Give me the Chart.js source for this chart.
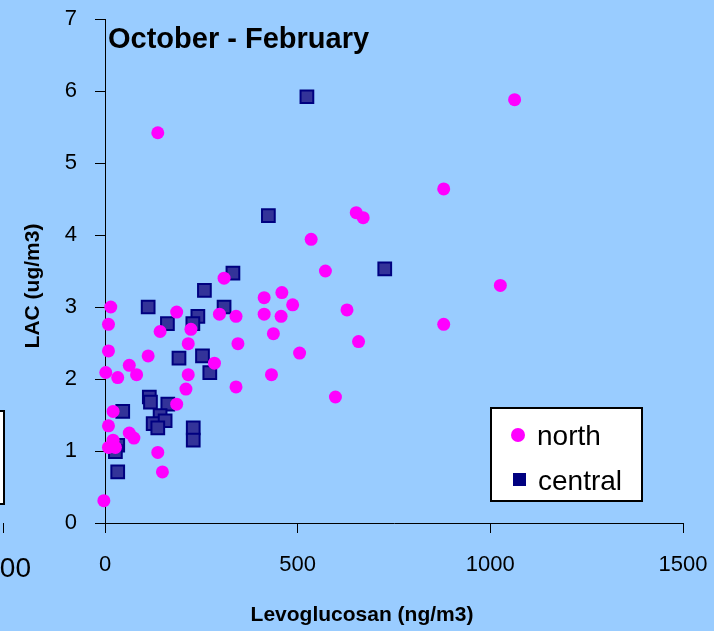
<!DOCTYPE html>
<html>
<head>
<meta charset="utf-8">
<title>October - February</title>
<script src="https://cdn.jsdelivr.net/npm/chart.js@4.4.1/dist/chart.umd.min.js"></script>
<style>
    html, body { margin: 0; padding: 0; background: #99CCFF; }
    #wrap { position: relative; width: 714px; height: 631px; }
</style>
</head>
<body>
<div id="wrap"><canvas id="chart"></canvas></div>
<script>
// ------------------- Data -------------------
const northX = [1063, 879, 652, 670, 535, 572, 459, 487, 457, 628, 1026, 879, 658, 505, 598,
    137, 309, 413, 15, 186, 297, 340, 413, 9, 143, 223, 437, 216, 345, 9, 112, 63, 284,
    2, 33, 82, 216, 432, 210, 340, 186, 21, 9, 63, 75, 21, 9, 27, 137, 149, -3];
const northY = [5.88, 4.64, 4.31, 4.24, 3.94, 3.50, 3.20, 3.03, 2.87, 2.96, 3.30, 2.76, 2.52, 2.36, 1.75,
    5.42, 3.40, 3.13, 3.00, 2.93, 2.90, 2.87, 2.90, 2.76, 2.66, 2.69, 2.63, 2.49, 2.49, 2.39, 2.32, 2.19, 2.22,
    2.09, 2.02, 2.06, 2.06, 2.06, 1.86, 1.89, 1.65, 1.55, 1.35, 1.25, 1.18, 1.15, 1.05, 1.05, 0.98, 0.71, 0.31];

const centralX = [524, 726, 424, 332, 258, 112, 309, 241, 162, 228, 192, 253, 272,
    115, 118, 163, 46, 143, 125, 156, 137, 229, 229, 33, 27, 33];
const centralY = [5.92, 3.53, 4.27, 3.47, 3.23, 3.00, 3.00, 2.87, 2.77, 2.77, 2.29, 2.32, 2.09,
    1.75, 1.68, 1.65, 1.55, 1.49, 1.38, 1.42, 1.32, 1.32, 1.15, 1.08, 0.99, 0.71];

const seriesNames = ['north', 'central'];
const xTicks = [0, 500, 1000, 1500];
const yTicks = [0, 1, 2, 3, 4, 5, 6, 7];

const chartTitle = 'October - February';
const xTitle = 'Levoglucosan (ng/m3)';
const yTitle = 'LAC (ug/m3)';

const FONT = "'Liberation Sans', Arial, sans-serif";
const toPoints = (xs, ys) => xs.map((x, i) => ({ x: x, y: ys[i] }));

// no extra room for overhanging tick labels, the chart area is fixed by layout.padding
const noScalePadding = (scale) => {
    scale.paddingTop = 0;
    scale.paddingBottom = 0;
    scale.paddingLeft = 0;
    scale.paddingRight = 0;
};

// ------------------- Overlay: title, axis titles, legend, cut-off neighbour -------------------
const overlayPlugin = {
    id: 'overlay',
    afterDraw(chart) {
        const ctx = chart.ctx;
        const area = chart.chartArea;
        ctx.save();
        ctx.fillStyle = '#000';

        // chart title inside the plot
        ctx.font = 'bold 29px ' + FONT;
        ctx.textAlign = 'left';
        ctx.textBaseline = 'alphabetic';
        ctx.fillText(chartTitle, area.left + 3, 48);

        // axis titles
        ctx.font = 'bold 21px ' + FONT;
        ctx.textAlign = 'center';
        ctx.textBaseline = 'middle';
        ctx.fillText(xTitle, 362, 615);
        ctx.save();
        ctx.translate(33, 286);
        ctx.rotate(-Math.PI / 2);
        ctx.fillText(yTitle, 0, 0);
        ctx.restore();

        // legend box
        ctx.fillStyle = '#fff';
        ctx.fillRect(491, 408, 151, 93);
        ctx.strokeStyle = '#000';
        ctx.lineWidth = 2;
        ctx.strokeRect(491, 408, 151, 93);
        ctx.fillStyle = '#FF00FF';
        ctx.beginPath();
        ctx.arc(518, 435, 7, 0, Math.PI * 2);
        ctx.fill();
        ctx.fillStyle = '#000080';
        ctx.fillRect(513, 473, 13, 13);
        ctx.fillStyle = '#000';
        ctx.font = '28px ' + FONT;
        ctx.textAlign = 'left';
        ctx.textBaseline = 'alphabetic';
        ctx.fillText(seriesNames[0], 537, 445);
        ctx.fillText(seriesNames[1], 538, 490);

        // edge of the neighbouring chart, cut off on the left
        ctx.fillStyle = '#fff';
        ctx.fillRect(-10, 411, 14, 93);
        ctx.strokeRect(-10, 411, 14, 93);
        ctx.lineWidth = 1;
        ctx.beginPath();
        ctx.moveTo(3.5, 523);
        ctx.lineTo(3.5, 533);
        ctx.stroke();
        ctx.fillStyle = '#000';
        ctx.font = '28px ' + FONT;
        ctx.textAlign = 'right';
        ctx.textBaseline = 'middle';
        ctx.fillText('1500', 31, 569);

        ctx.restore();
    }
};

// ------------------- Chart -------------------
Chart.defaults.font.family = FONT;
Chart.defaults.color = '#000';

new Chart(document.getElementById('chart'), {
    type: 'scatter',
    data: {
        datasets: [
            {
                label: seriesNames[0],
                data: toPoints(northX, northY),
                pointStyle: 'circle',
                pointRadius: 6.5,
                pointHoverRadius: 6.5,
                backgroundColor: '#FF00FF',
                borderColor: '#FF00FF',
                borderWidth: 0,
                clip: false
            },
            {
                label: seriesNames[1],
                data: toPoints(centralX, centralY),
                pointStyle: 'rect',
                pointRadius: 9,
                pointHoverRadius: 9,
                backgroundColor: '#333399',
                borderColor: '#000080',
                borderWidth: 2,
                clip: false
            }
        ]
    },
    options: {
        responsive: true,
        maintainAspectRatio: false,
        animation: false,
        events: [],
        layout: { padding: { left: 0, top: 19, right: 31, bottom: 0 } },
        plugins: {
            legend: { display: false },
            title: { display: false },
            tooltip: { enabled: false }
        },
        scales: {
            x: {
                type: 'linear',
                min: 0,
                max: 1500,
                afterBuildTicks: (scale) => { scale.ticks = xTicks.map(v => ({ value: v })); },
                afterFit: (scale) => { scale.height = 108; noScalePadding(scale); },
                border: { display: true, color: '#000', width: 1 },
                grid: { display: true, drawOnChartArea: false, drawTicks: true, tickLength: 10, color: '#000' },
                ticks: { font: { size: 22 }, padding: 19, maxRotation: 0, callback: (v) => String(v) }
            },
            y: {
                type: 'linear',
                min: 0,
                max: 7,
                afterBuildTicks: (scale) => { scale.ticks = yTicks.map(v => ({ value: v })); },
                afterFit: (scale) => { scale.width = 105; noScalePadding(scale); },
                border: { display: true, color: '#000', width: 1 },
                grid: { display: true, drawOnChartArea: false, drawTicks: true, tickLength: 10, color: '#000' },
                ticks: { font: { size: 22 }, padding: 18, callback: (v) => String(v) }
            }
        }
    },
    plugins: [overlayPlugin]
});
</script>
</body>
</html>
